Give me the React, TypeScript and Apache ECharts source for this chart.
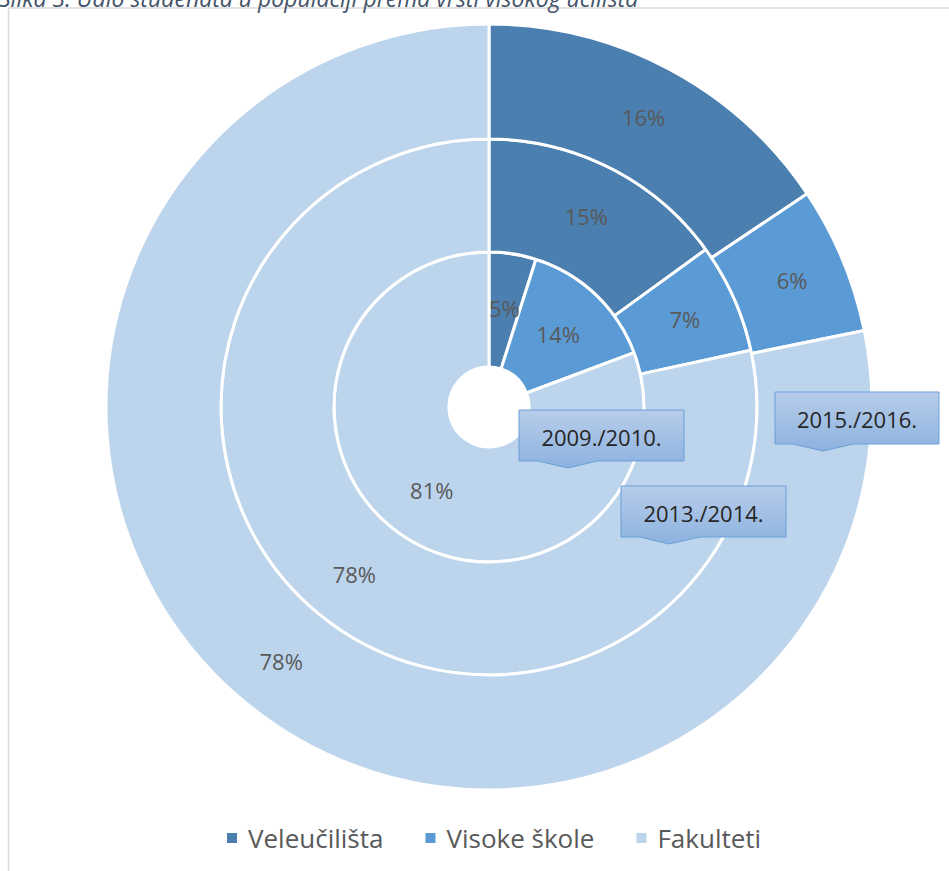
import React, { useEffect, useRef } from "react";
import * as echarts from "echarts";

const titleText = "Slika 3. Udio studenata u populaciji prema vrsti visokog učilišta";
const categories = ["Veleučilišta", "Visoke škole", "Fakulteti"];
const years = ["2009./2010.", "2013./2014.", "2015./2016."];
const values2009 = [4.9, 14.4, 80.7];
const values2013 = [15.0, 6.6, 78.4];
const values2015 = [15.6, 6.2, 78.2];
const colors = ["#4a7fb0", "#5b9bd5", "#bdd5ec"];

const FONT = "'Open Sans', 'Noto Sans', sans-serif";

function callout(box: number[], base: number[], tip: number[], label: string) {
  const [x1, y1, x2, y2] = box;
  return [
    {
      type: "polygon",
      shape: {
        points: [
          [x1, y1],
          [x2, y1],
          [x2, y2],
          [base[1], y2],
          [tip[0], tip[1]],
          [base[0], y2],
          [x1, y2],
        ],
      },
      style: {
        fill: {
          type: "linear",
          x: 0,
          y: 0,
          x2: 0,
          y2: 1,
          colorStops: [
            { offset: 0, color: "#b7cdea" },
            { offset: 1, color: "#8db2df" },
          ],
        },
        stroke: "#6a9fd8",
        lineWidth: 1,
      },
      z: 100,
    },
    {
      type: "text",
      x: (x1 + x2) / 2,
      y: (y1 + y2) / 2 + 1,
      style: {
        text: label,
        fontFamily: FONT,
        fontSize: 22,
        fill: "#262626",
        align: "center",
        verticalAlign: "middle",
      },
      z: 101,
    },
  ];
}

export default function App() {
  const ref = useRef<HTMLDivElement>(null);
  useEffect(() => {
    if (!ref.current) return;
    const chart = echarts.init(ref.current, undefined, { renderer: "svg" });
    const cx = 489;
    const cy = 407;
    const mk = (name: string, vals: number[], radius: number[]) => ({
      type: "pie",
      name,
      center: [cx, cy],
      radius,
      startAngle: 90,
      clockwise: true,
      avoidLabelOverlap: false,
      label: {
        show: true,
        position: "inside",
        formatter: (p: any) => Math.round(p.value) + "%",
        color: "#595959",
        fontFamily: FONT,
        fontSize: 22,
      },
      labelLine: { show: false },
      itemStyle: { borderColor: "#ffffff", borderWidth: 3 },
      emphasis: { disabled: true },
      data: categories.map((c, i) => ({ name: c, value: vals[i] })),
    });
    chart.setOption({
      animation: false,
      color: colors,
      legend: {
        data: categories,
        left: 220,
        top: 820,
        icon: "rect",
        itemWidth: 12,
        itemHeight: 12,
        itemGap: 40,
        textStyle: { color: "#595959", fontFamily: FONT, fontSize: 26, padding: [0, 0, 0, 5] },
      },
      series: [
        mk(years[0], values2009, [40, 155]),
        mk(years[1], values2013, [155, 268]),
        mk(years[2], values2015, [268, 383]),
      ],
      graphic: [
        {
          type: "rect",
          shape: { x: 8.5, y: 8, width: 1200, height: 1200 },
          style: { fill: "none", stroke: "#d9d9d9", lineWidth: 1.5 },
          silent: true,
          z: 0,
        },
        {
          type: "text",
          x: -1,
          y: -14,
          style: {
            text: titleText,
            fontFamily: FONT,
            fontStyle: "italic",
            fontSize: 23,
            fill: "#44546a",
          },
        },
        ...callout([519, 410, 684, 461], [538, 597], [568, 468], years[0]),
        ...callout([621, 486, 786, 537], [640, 700], [669, 544], years[1]),
        ...callout([775, 392, 939, 444], [793, 853], [823, 451], years[2]),
      ],
    });
    return () => chart.dispose();
  }, []);
  return (
    <div
      ref={ref}
      style={{ position: "fixed", left: 0, top: 0, width: 949, height: 871, background: "#ffffff" }}
    />
  );
}
